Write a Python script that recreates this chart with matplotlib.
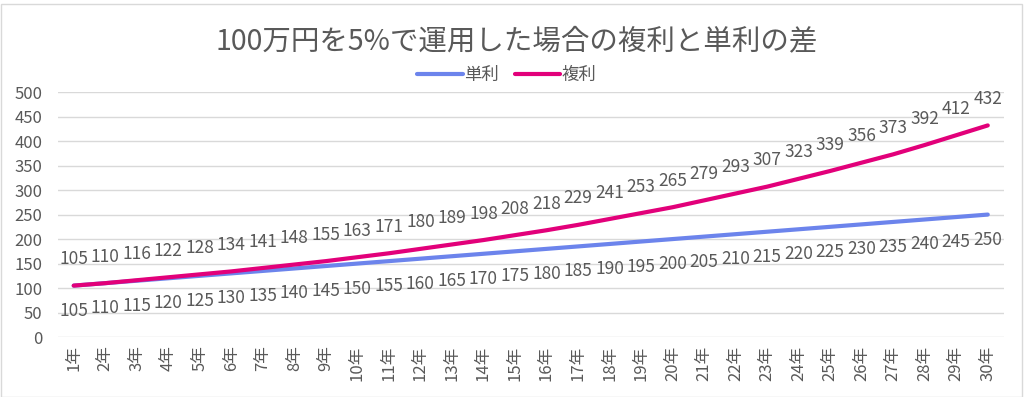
import numpy as np
import matplotlib
matplotlib.use('Agg')
import matplotlib.pyplot as plt
from matplotlib.patches import Rectangle

plt.rcParams['font.family'] = ['Noto Sans CJK JP', 'DejaVu Sans']

## data
years = ['{}年'.format(i) for i in range(1, 31)]
simple = [105, 110, 115, 120, 125, 130, 135, 140, 145, 150,
          155, 160, 165, 170, 175, 180, 185, 190, 195, 200,
          205, 210, 215, 220, 225, 230, 235, 240, 245, 250]
compound = [105, 110, 116, 122, 128, 134, 141, 148, 155, 163,
            171, 180, 189, 198, 208, 218, 229, 241, 253, 265,
            279, 293, 307, 323, 339, 356, 373, 392, 412, 432]
yticks = [0, 50, 100, 150, 200, 250, 300, 350, 400, 450, 500]

txt = '#595959'
blue = '#6c84ec'
pink = '#e2007a'

fig = plt.figure(figsize=(10.24, 3.97), dpi=100)
ax = fig.add_axes([0.0566, 0.151, 0.9234, 0.617])

## frame around chart
fig.patches.append(Rectangle((0.001, 0.0), 0.997, 0.99, transform=fig.transFigure,
                             fill=False, edgecolor='#d9d9d9', linewidth=1))

x = np.arange(len(years))
ax.plot(x, simple, color=blue, linewidth=3, label='単利', solid_capstyle='round', zorder=3)
ax.plot(x, compound, color=pink, linewidth=3, label='複利', solid_capstyle='round', zorder=4)

## data labels
for xi, v in zip(x, simple):
    ax.annotate(str(v), (xi, v), xytext=(0, -18), textcoords='offset points',
                ha='center', va='center', fontsize=12.5, color=txt)
for xi, v in zip(x, compound):
    ax.annotate(str(v), (xi, v), xytext=(0, 19), textcoords='offset points',
                ha='center', va='center', fontsize=12.5, color=txt)

ax.set_xlim(-0.5, len(years) - 0.5)
ax.set_ylim(0, 500)
ax.set_yticks(yticks)
ax.set_xticks(x)
ax.set_xticklabels(years, rotation=90)
ax.grid(axis='y', color='#d9d9d9', linewidth=1)
ax.set_axisbelow(True)
for s in ax.spines.values():
    s.set_visible(False)
ax.tick_params(axis='both', length=0, colors=txt)
ax.tick_params(axis='y', labelsize=12, pad=11)
ax.tick_params(axis='x', labelsize=12, pad=6)

fig.text(0.505, 0.895, '100万円を5%で運用した場合の複利と単利の差', ha='center', va='center',
         fontsize=20.5, color=txt)
fig.legend(loc='center', bbox_to_anchor=(0.495, 0.81), ncol=2, frameon=False,
           fontsize=12.5, labelcolor=txt, handlelength=2.6, handletextpad=0.1,
           columnspacing=0.9)

fig.savefig('out.png', dpi=100)
